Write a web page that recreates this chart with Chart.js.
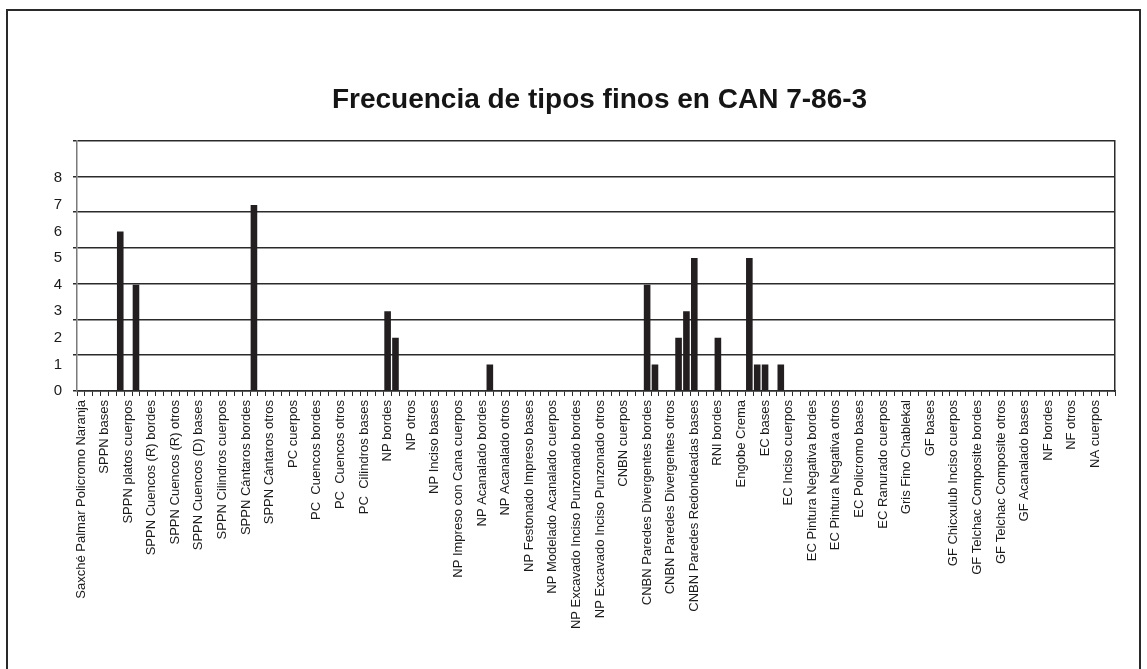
<!DOCTYPE html>
<html>
<head>
<meta charset="utf-8">
<script src="https://cdn.jsdelivr.net/npm/chart.js@4"></script>
<style>
  html, body { margin: 0; padding: 0; background: #fff; width: 1147px; height: 669px; overflow: hidden; }
  #wrap { position: absolute; left: 0; top: 0; width: 1147px; height: 669px; }
  #frame { position: absolute; left: 6px; top: 9px; width: 1135px; height: 700px; border: 2px solid #2a2a2a; box-sizing: border-box; pointer-events: none; }
</style>
</head>
<body>
<div id="wrap"><canvas id="c" width="1147" height="669"></canvas></div>
<div id="frame"></div>
<script>
// ---- data ----
const titleText = 'Frecuencia de tipos finos en CAN 7-86-3';

// labels printed under the axis (one every third category)
const shownLabels = [
  'Saxché Palmar Policromo Naranja', 'SPPN bases', 'SPPN platos cuerpos',
  'SPPN Cuencos (R) bordes', 'SPPN Cuencos (R) otros', 'SPPN Cuencos (D) bases',
  'SPPN Cilindros cuerpos', 'SPPN Cántaros bordes', 'SPPN Cántaros otros',
  'PC cuerpos', 'PC  Cuencos bordes', 'PC  Cuencos otros', 'PC  Cilindros bases',
  'NP bordes', 'NP otros', 'NP Inciso bases', 'NP Impreso con Cana cuerpos',
  'NP Acanalado bordes', 'NP Acanalado otros', 'NP Festonado Impreso bases',
  'NP Modelado Acanalado cuerpos', 'NP Excavado Inciso Punzonado bordes',
  'NP Excavado Inciso Punzonado otros', 'CNBN cuerpos',
  'CNBN Paredes Divergentes bordes', 'CNBN Paredes Divergentes otros',
  'CNBN Paredes Redondeadas bases', 'RNI bordes', 'Engobe Crema', 'EC bases',
  'EC Inciso cuerpos', 'EC Pintura Negativa bordes', 'EC Pintura Negativa otros',
  'EC Policromo bases', 'EC Ranurado cuerpos', 'Gris Fino Chablekal', 'GF bases',
  'GF Chicxulub Inciso cuerpos', 'GF Telchac Composite bordes',
  'GF Telchac Composite otros', 'GF Acanalado bases', 'NF bordes', 'NF otros', 'NA cuerpos'
];
const labelEvery = 3;

// frequency per category (132 categories, left to right)
const frequencies = [
  0,0,0,0,0,6,0,4,0,0,0,0,
  0,0,0,0,0,0,0,0,0,0,7,0,
  0,0,0,0,0,0,0,0,0,0,0,0,
  0,0,0,3,2,0,0,0,0,0,0,0,
  0,0,0,0,1,0,0,0,0,0,0,0,
  0,0,0,0,0,0,0,0,0,0,0,0,
  4,1,0,0,2,3,5,0,0,2,0,0,
  0,5,1,1,0,1,0,0,0,0,0,0,
  0,0,0,0,0,0,0,0,0,0,0,0,
  0,0,0,0,0,0,0,0,0,0,0,0,
  0,0,0,0,0,0,0,0,0,0,0,0
];

const yTickLabels = ['0','1','2','3','4','5','6','7','8'];
const yMax = 9.42;        // top of the value axis
const gridIntervals = 7;  // horizontal gridlines split the plot in 7 bands

// ---- build ----
const categories = frequencies.map((_, i) => (i % labelEvery === 0 ? (shownLabels[i / labelEvery] || '') : ''));

const FONT = "'Liberation Sans', Arial, sans-serif";
const DARK = '#2b2b2b';

new Chart(document.getElementById('c'), {
  type: 'bar',
  data: {
    labels: categories,
    datasets: [{
      data: frequencies,
      backgroundColor: '#231f20',
      borderWidth: 0,
      categoryPercentage: 1.0,
      barPercentage: 0.84
    }]
  },
  options: {
    responsive: false,
    animation: false,
    events: [],
    layout: { padding: { left: 52, right: 0, top: 0, bottom: 0 } },
    plugins: {
      legend: { display: false },
      tooltip: { enabled: false },
      title: {
        display: true,
        text: titleText,
        color: '#151515',
        font: { family: FONT, size: 28, weight: 'bold', lineHeight: 1.2 },
        padding: { top: 83, bottom: 24 }
      }
    },
    scales: {
      x: {
        type: 'category',
        offset: true,
        grid: { display: true, offset: true, drawOnChartArea: false, drawTicks: true, tickLength: 5, color: DARK, lineWidth: 1 },
        border: { display: true, color: DARK, width: 1.5 },
        ticks: {
          autoSkip: false, minRotation: 90, maxRotation: 90, padding: 4,
          color: '#1a1a1a', font: { family: FONT, size: 13 }
        },
        afterFit(scale) { scale.height = 278; }
      },
      yg: {
        position: 'left', weight: 0,
        min: 0, max: yMax,
        grid: { display: true, drawOnChartArea: true, drawTicks: true, tickLength: 4, color: DARK, lineWidth: 1.5 },
        border: { display: true, color: '#7a7a7a', width: 1.5 },
        ticks: { display: false },
        afterBuildTicks(scale) {
          const t = [];
          for (let i = 0; i <= gridIntervals; i++) t.push({ value: i * yMax / gridIntervals });
          scale.ticks = t;
        },
        afterFit(scale) { scale.width = 4; }
      },
      y: {
        position: 'left', weight: 1,
        min: 0, max: yMax,
        grid: { display: false },
        border: { display: false },
        ticks: {
          padding: 3, color: '#1a1a1a', font: { family: FONT, size: 15 },
          callback: (v, i) => yTickLabels[i]
        },
        afterBuildTicks(scale) {
          scale.ticks = yTickLabels.map(l => ({ value: Number(l) }));
        },
        afterFit(scale) { scale.width = 21; }
      },
      yr: {
        position: 'right',
        min: 0, max: yMax,
        grid: { display: false },
        border: { display: true, color: DARK, width: 1.5 },
        ticks: { display: false },
        afterFit(scale) { scale.width = 32; }
      }
    }
  }
});
</script>
</body>
</html>
